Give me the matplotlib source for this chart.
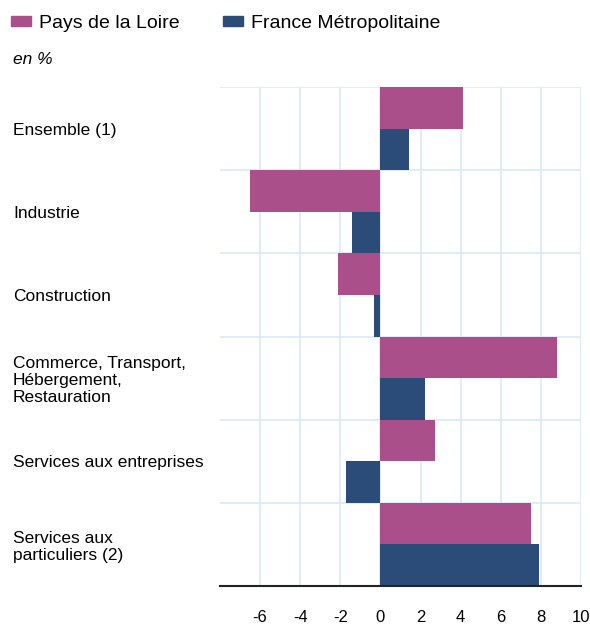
import numpy as np
import matplotlib.pyplot as plt
from matplotlib.patches import Patch

plt.rcParams['font.family'] = ['Liberation Sans', 'DejaVu Sans']

# categories and values (en %)
categories = ['Ensemble (1)', 'Industrie', 'Construction',
              'Commerce, Transport,\nHébergement,\nRestauration',
              'Services aux entreprises', 'Services aux\nparticuliers (2)']
pays_loire = [4.1, -6.5, -2.1, 8.8, 2.7, 7.5]
france_metro = [1.4, -1.4, -0.3, 2.2, -1.7, 7.9]
series_names = ['Pays de la Loire', 'France Métropolitaine']
xticks = [-6, -4, -2, 0, 2, 4, 6, 8, 10]

pink = '#AB4F8A'
blue = '#2B4B79'
grid_col = '#DAE9FA'

W, H = 590, 624
fig = plt.figure(figsize=(W / 100, H / 100), dpi=100)
ax = fig.add_axes([220 / W, (H - 586) / H, (581 - 220) / W, (586 - 87) / H])

n = len(categories)
pos = np.arange(n)
ax.barh(pos - 0.25, pays_loire, height=0.5, color=pink, zorder=3)
ax.barh(pos + 0.25, france_metro, height=0.5, color=blue, zorder=3)

ax.set_ylim(n - 0.5, -0.5)
ax.set_xlim(-8, 10)
ax.set_xticks(xticks)
ax.set_xticklabels([str(t) for t in xticks], fontsize=12)
ax.set_yticks(pos)
ax.set_yticklabels(categories, fontsize=12.5, ha='left', ma='left', linespacing=1.15)
ax.set_yticks(np.arange(n) - 0.5, minor=True)
ax.tick_params(axis='y', which='both', length=0, pad=149)
ax.tick_params(axis='x', length=0, pad=17)

ax.grid(axis='x', color=grid_col, lw=1.2, zorder=0)
ax.grid(axis='y', which='minor', color=grid_col, lw=1.2, zorder=0)
ax.grid(axis='y', which='major', visible=False)
for s in ['top', 'right', 'left']:
    ax.spines[s].set_visible(False)
ax.spines['bottom'].set_color('#222222')
ax.spines['bottom'].set_linewidth(1.5)
ax.spines['bottom'].set_zorder(4)

handles = [Patch(color=pink), Patch(color=blue)]
fig.legend(handles, series_names, loc='upper left', bbox_to_anchor=(-0.006, 1.0),
           ncol=2, frameon=False, fontsize=14, handlelength=1.05, handleheight=0.4,
           handletextpad=0.4, columnspacing=2.2, borderaxespad=0.35)
fig.text(13 / W, 1 - 60 / H, 'en %', fontsize=12.5, style='italic', va='center')

fig.savefig('out.png', dpi=100)
